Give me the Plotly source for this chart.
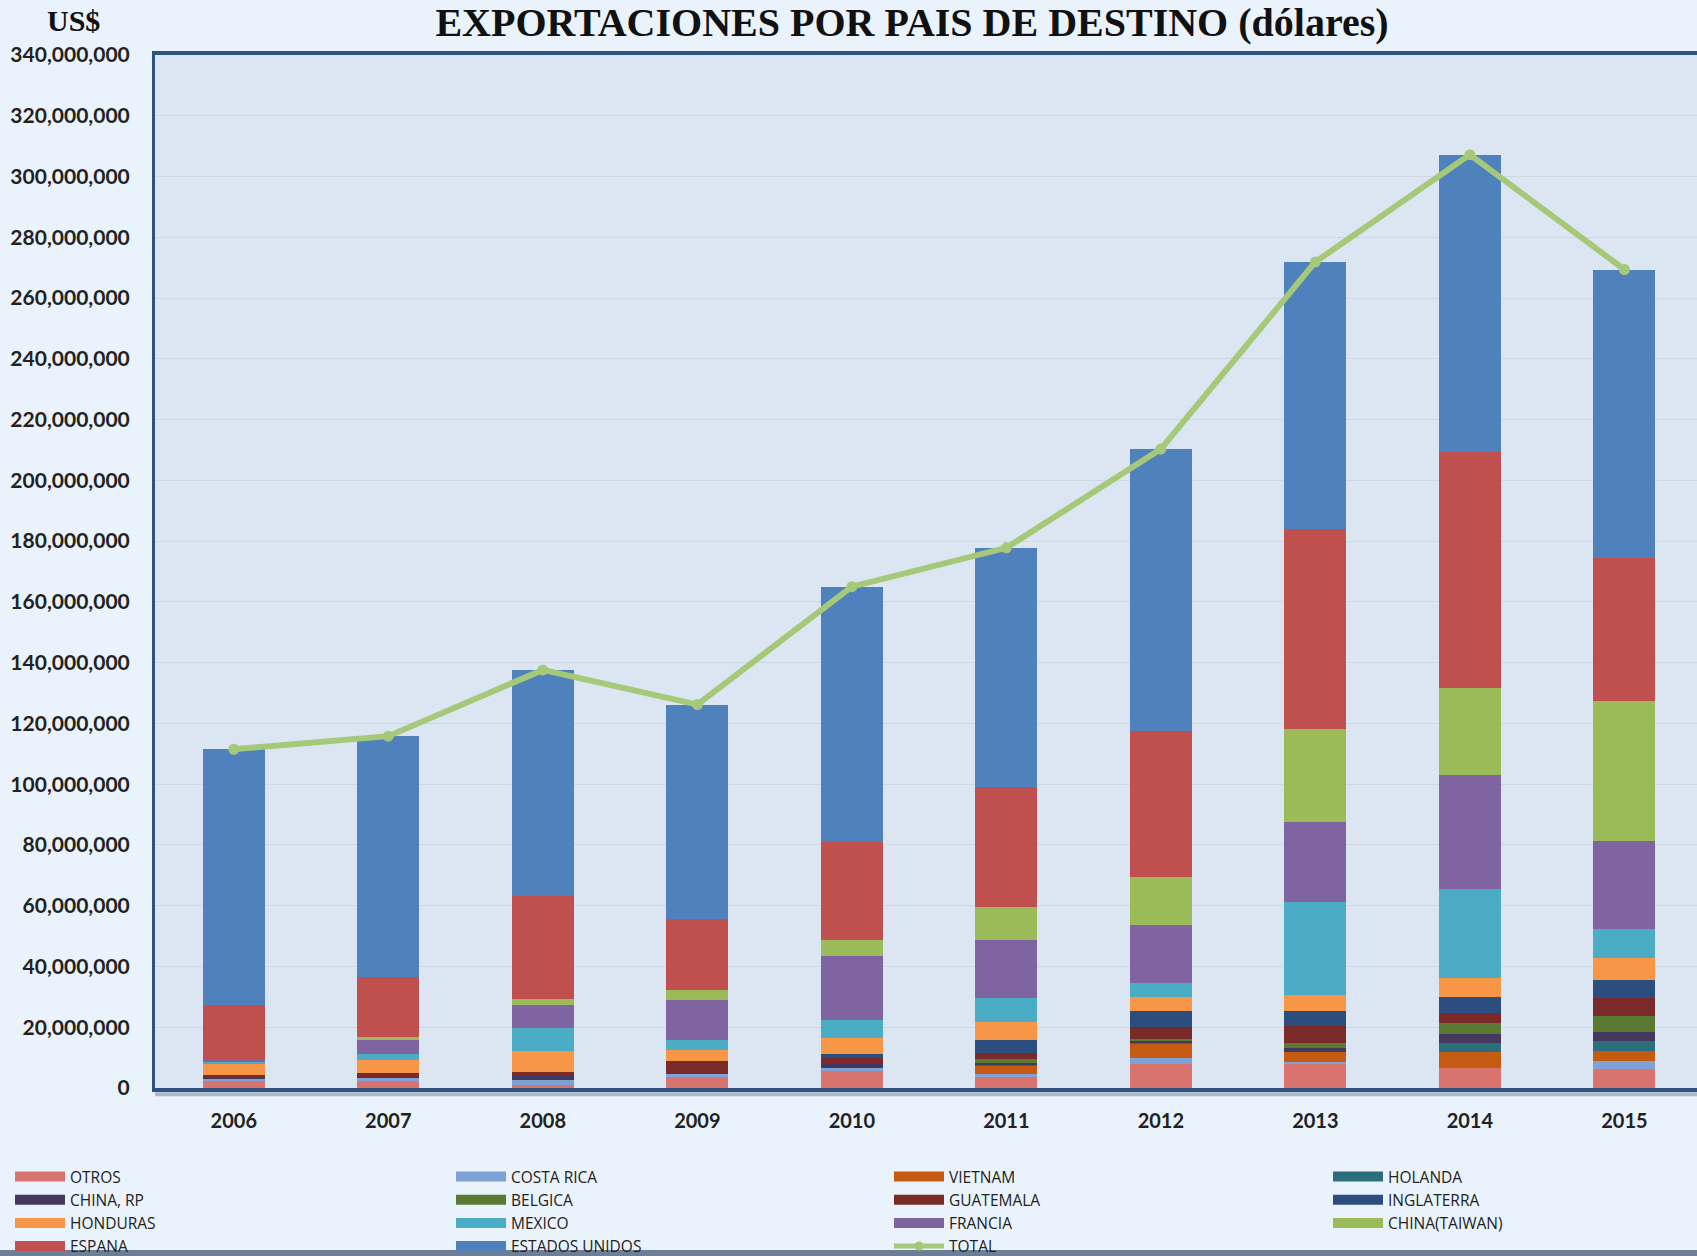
import plotly.graph_objects as go

# Exportaciones por pais de destino, millones de US$
years = ['2006', '2007', '2008', '2009', '2010', '2011', '2012', '2013', '2014', '2015']

otros      = [2.6, 2.2, 1.1, 3.5, 5.9, 3.5, 7.9, 8.1, 6.6, 6.4]
costa_rica = [0.5, 1.1, 1.4, 1.2, 0.6, 1.1, 2.0, 0.3, 0.0, 2.6]
vietnam    = [0.0, 0.0, 0.0, 0.0, 0.0, 2.9, 4.6, 3.3, 5.2, 3.1]
holanda    = [0.0, 0.0, 0.0, 0.0, 0.0, 0.3, 0.4, 0.0, 3.0, 3.3]
china_rp   = [0.5, 0.3, 1.6, 0.0, 1.3, 0.5, 0.5, 1.6, 2.9, 3.1]
belgica    = [0.0, 0.0, 0.0, 0.0, 0.0, 1.4, 0.8, 1.6, 3.7, 5.2]
guatemala  = [0.6, 1.2, 1.2, 4.3, 2.2, 1.9, 3.8, 5.5, 3.3, 6.0]
inglaterra = [0.0, 0.0, 0.0, 0.0, 1.3, 4.2, 5.5, 4.9, 5.3, 5.7]
honduras   = [3.9, 4.3, 6.8, 3.6, 5.0, 5.9, 4.4, 5.3, 6.3, 7.5]
mexico     = [0.5, 2.0, 7.7, 3.3, 6.0, 8.0, 4.6, 30.7, 29.1, 9.5]
francia    = [0.6, 4.7, 7.4, 13.2, 21.2, 19.1, 19.0, 26.4, 37.6, 28.8]
taiwan     = [0.0, 1.0, 2.2, 3.1, 5.3, 10.7, 15.9, 30.6, 28.5, 46.3]
espana     = [18.2, 19.7, 33.7, 23.4, 32.1, 39.6, 48.0, 65.6, 77.7, 47.0]
usa        = [84.1, 79.3, 74.5, 70.6, 84.1, 78.7, 92.9, 88.0, 98.0, 94.8]
total      = [111.5, 115.8, 137.6, 126.2, 165.0, 177.8, 210.3, 271.9, 307.2, 269.4]

y_ticks = list(range(0, 340_000_001, 20_000_000))

# orden de apilado (de abajo hacia arriba) = orden de la leyenda
series = [
    ('OTROS', otros, '#d9736e'),
    ('COSTA RICA', costa_rica, '#7ea2d6'),
    ('VIETNAM', vietnam, '#c55a11'),
    ('HOLANDA', holanda, '#2b6f7c'),
    ('CHINA, RP', china_rp, '#45385e'),
    ('BELGICA', belgica, '#5a7a32'),
    ('GUATEMALA', guatemala, '#7b2a2a'),
    ('INGLATERRA', inglaterra, '#2b4e7e'),
    ('HONDURAS', honduras, '#f79646'),
    ('MEXICO', mexico, '#4bacc6'),
    ('FRANCIA', francia, '#8064a2'),
    ('CHINA(TAIWAN)', taiwan, '#9bbb59'),
    ('ESPANA', espana, '#c0504d'),
    ('ESTADOS UNIDOS', usa, '#4f81bd'),
]
total_color = '#a5c978'

W, H = 1697, 1256
legend_ids = ['legend', 'legend2', 'legend3', 'legend4']
legend_x = [10, 451, 889, 1328]

fig = go.Figure()

for name, vals, color in series:
    fig.add_trace(go.Bar(
        x=years, y=[v * 1e6 for v in vals], name=name,
        marker=dict(color=color, line=dict(width=0)),
        width=0.4, showlegend=False,
    ))

fig.add_trace(go.Scatter(
    x=years, y=[v * 1e6 for v in total], name='TOTAL',
    mode='lines+markers',
    line=dict(color=total_color, width=6),
    marker=dict(size=11, color=total_color),
    showlegend=False,
))

# leyenda: 4 columnas, orden por filas como en el original
legend_items = [(n, c) for n, _, c in series] + [('TOTAL', total_color)]
for i, (name, color) in enumerate(legend_items):
    if name == 'TOTAL':
        tr = go.Scatter(x=[None], y=[None], mode='lines+markers', name=name,
                        line=dict(color=color, width=5),
                        marker=dict(size=9, color=color))
    else:
        tr = go.Scatter(x=[None], y=[None], mode='lines', name=name,
                        line=dict(color=color, width=10))
    tr.update(legend=legend_ids[i % 4], showlegend=True)
    fig.add_trace(tr)

legend_style = dict(
    xref='container', yref='container', xanchor='left', yanchor='top',
    y=1 - 1160 / H, bgcolor='rgba(0,0,0,0)', borderwidth=0,
    font=dict(family='Open Sans', size=15.5, color='#222222'),
    traceorder='normal', itemwidth=50, tracegroupgap=0,
)
for lid, lx in zip(legend_ids, legend_x):
    fig.update_layout({lid: dict(legend_style, x=lx / W)})

fig.update_layout(
    width=W, height=H,
    barmode='stack',
    paper_bgcolor='#eaf2fb',
    plot_bgcolor='#dce6f2',
    margin=dict(l=155, r=0, t=55, b=168, autoexpand=False),
    title=dict(
        text='EXPORTACIONES POR PAIS DE DESTINO (dólares)',
        x=912 / W, xref='container', xanchor='center',
        y=1 - 22 / H, yref='container', yanchor='middle',
        font=dict(family='Liberation Serif', size=40, color='#111111', weight='bold'),
    ),
    xaxis=dict(
        type='category', range=[-0.51, 9.47],
        showline=True, linecolor='#2f527e', linewidth=4, mirror=True,
        showgrid=False, ticks='', ticklabelstandoff=12,
        tickfont=dict(family='Lato', size=20, color='#222222', weight='bold'),
    ),
    yaxis=dict(
        range=[0, 340e6], tickvals=y_ticks, tickformat=',d',
        showline=True, linecolor='#2f527e', linewidth=3,
        gridcolor='#cfd8e4', gridwidth=1, zeroline=False,
        ticks='', ticklabelstandoff=18,
        tickfont=dict(family='Lato', size=21, color='#222222', weight='bold'),
    ),
    annotations=[dict(
        text='US$', xref='paper', yref='paper',
        x=(73 - 155) / 1542, y=(1088 - 20) / 1033,
        xanchor='center', yanchor='middle', showarrow=False,
        font=dict(family='Liberation Serif', size=30, color='#111111', weight='bold'),
    )],
    shapes=[
        dict(type='line', xref='paper', yref='paper', x0=0, x1=1,
             y0=-0.006, y1=-0.006, line=dict(color='rgba(60,80,110,0.35)', width=4)),
        dict(type='rect', xref='paper', yref='paper', x0=-0.101, x1=1.0,
             y0=(1088 - 1257) / 1033, y1=(1088 - 1250) / 1033,
             line=dict(width=0), fillcolor='#6d7f96'),
    ],
)

fig.write_html('out.html', config={'displayModeBar': False},
               post_script="document.body.style.margin='0px';")
